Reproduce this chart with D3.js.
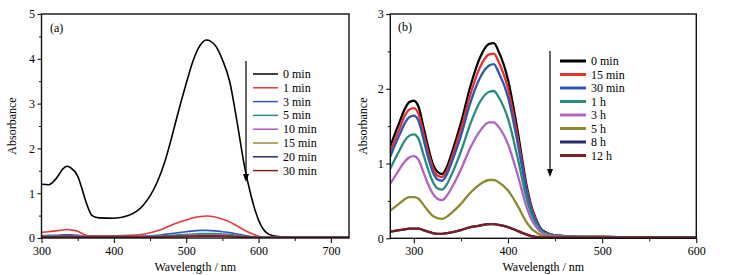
<!DOCTYPE html>
<html><head><meta charset="utf-8">
<script src="https://cdn.jsdelivr.net/npm/d3@7"></script>
<style>
body{margin:0;background:#fff;}
svg{display:block;font-family:"Liberation Serif","Times New Roman",serif;}
</style></head><body>
<svg id="c" width="744" height="275"></svg>
<script>
// ---------- Panel (a) data ----------
const wlA = [300,310,320,330,335,340,350,355,360,365,370,380,400,420,440,460,470,480,490,500,510,520,528,540,550,560,570,580,590,600,610,620,640,680,725];
const labelsA = ["0 min","1 min","3 min","5 min","10 min","15 min","20 min","30 min"];
const colorsA = ["#000000","#e8393a","#3558b8","#2a9080","#b456c0","#9a8a3c","#2e2e6e","#7e2426"];
const a0  = [1.20,1.19,1.32,1.55,1.60,1.57,1.38,1.15,0.88,0.65,0.50,0.45,0.44,0.50,0.72,1.25,1.68,2.25,2.87,3.45,3.98,4.32,4.42,4.30,3.98,3.50,2.62,1.65,0.92,0.40,0.13,0.05,0.02,0.02,0.02];
const a1  = [0.13,0.14,0.16,0.18,0.19,0.18,0.15,0.11,0.07,0.05,0.05,0.05,0.05,0.06,0.08,0.16,0.22,0.29,0.35,0.40,0.45,0.48,0.49,0.47,0.42,0.36,0.27,0.18,0.10,0.04,0.02,0.01,0.01,0.01,0.01];
const a3  = [0.05,0.06,0.06,0.07,0.07,0.07,0.06,0.05,0.04,0.03,0.03,0.03,0.03,0.03,0.04,0.06,0.08,0.10,0.12,0.14,0.16,0.17,0.17,0.16,0.14,0.12,0.09,0.06,0.03,0.02,0.01,0.01,0.01,0.01,0.01];
const a5  = [0.04,0.04,0.05,0.05,0.05,0.05,0.04,0.04,0.03,0.03,0.03,0.03,0.03,0.03,0.03,0.04,0.05,0.06,0.07,0.08,0.09,0.10,0.10,0.10,0.09,0.08,0.06,0.04,0.02,0.02,0.01,0.01,0.01,0.01,0.01];
const a10 = [0.03,0.03,0.04,0.04,0.04,0.04,0.04,0.03,0.03,0.02,0.02,0.02,0.02,0.02,0.03,0.03,0.04,0.05,0.05,0.06,0.07,0.07,0.07,0.07,0.07,0.06,0.05,0.03,0.02,0.01,0.01,0.01,0.01,0.01,0.01];
const a15 = [0.03,0.03,0.03,0.03,0.04,0.03,0.03,0.03,0.02,0.02,0.02,0.02,0.02,0.02,0.02,0.03,0.03,0.04,0.04,0.05,0.05,0.06,0.06,0.06,0.05,0.05,0.04,0.03,0.02,0.01,0.01,0.01,0.01,0.01,0.01];
const a20 = [0.02,0.02,0.03,0.03,0.03,0.03,0.03,0.02,0.02,0.02,0.02,0.02,0.02,0.02,0.02,0.02,0.03,0.03,0.04,0.04,0.04,0.05,0.05,0.05,0.04,0.04,0.03,0.02,0.02,0.01,0.01,0.01,0.01,0.01,0.01];
const a30 = [0.02,0.02,0.02,0.03,0.03,0.03,0.02,0.02,0.02,0.02,0.02,0.02,0.02,0.02,0.02,0.02,0.03,0.03,0.03,0.03,0.04,0.04,0.04,0.04,0.04,0.03,0.03,0.02,0.01,0.01,0.01,0.01,0.01,0.01,0.01];
const xTicksA = [300,400,500,600,700];
const yTicksA = [0,1,2,3,4,5];

// ---------- Panel (b) data ----------
const wlB = [275,280,285,290,295,300,305,310,315,320,325,330,335,340,350,360,370,380,385,390,400,410,420,425,430,435,440,450,460,480,500,550,600];
const labelsB = ["0 min","15 min","30 min","1 h","3 h","5 h","8 h","12 h"];
const colorsB = ["#000000","#e8302e","#2f56b0","#2a8a82","#b262c2","#8c8a30","#2b2b6b","#7a2023"];
const b0   = [1.23,1.40,1.56,1.72,1.82,1.84,1.76,1.50,1.23,1.00,0.89,0.86,0.95,1.13,1.54,2.03,2.41,2.60,2.61,2.50,2.12,1.45,0.69,0.42,0.25,0.13,0.08,0.04,0.03,0.02,0.02,0.01,0.01];
const b15  = [1.16,1.32,1.47,1.63,1.72,1.74,1.66,1.42,1.16,0.95,0.84,0.82,0.90,1.07,1.46,1.92,2.28,2.46,2.47,2.36,2.00,1.37,0.65,0.40,0.24,0.12,0.07,0.04,0.03,0.02,0.02,0.01,0.01];
const b30  = [1.09,1.25,1.39,1.53,1.62,1.64,1.57,1.34,1.09,0.89,0.79,0.77,0.85,1.01,1.37,1.81,2.14,2.31,2.33,2.22,1.89,1.29,0.62,0.37,0.22,0.12,0.07,0.04,0.03,0.02,0.02,0.01,0.01];
const b1h  = [0.93,1.06,1.18,1.30,1.37,1.39,1.33,1.13,0.93,0.76,0.67,0.65,0.72,0.85,1.16,1.53,1.82,1.96,1.97,1.89,1.60,1.09,0.52,0.32,0.19,0.10,0.06,0.03,0.02,0.02,0.02,0.01,0.01];
const b3h  = [0.73,0.83,0.93,1.02,1.08,1.10,1.05,0.89,0.73,0.60,0.53,0.51,0.57,0.67,0.92,1.21,1.43,1.55,1.55,1.49,1.26,0.86,0.41,0.25,0.15,0.08,0.05,0.03,0.02,0.02,0.02,0.01,0.01];
const b5h  = [0.37,0.42,0.47,0.52,0.55,0.55,0.53,0.45,0.37,0.30,0.27,0.26,0.29,0.34,0.46,0.61,0.72,0.78,0.78,0.75,0.64,0.44,0.21,0.13,0.08,0.04,0.03,0.02,0.02,0.02,0.01,0.01,0.01];
const b8h  = [0.09,0.10,0.11,0.12,0.13,0.13,0.13,0.11,0.09,0.07,0.06,0.06,0.07,0.08,0.11,0.15,0.17,0.19,0.19,0.18,0.15,0.10,0.05,0.03,0.02,0.01,0.01,0.01,0.01,0.01,0.01,0.01,0.01];
const b12h = [0.09,0.10,0.11,0.12,0.13,0.13,0.13,0.11,0.09,0.07,0.06,0.06,0.07,0.08,0.11,0.15,0.17,0.19,0.19,0.18,0.15,0.10,0.05,0.03,0.02,0.01,0.01,0.01,0.01,0.01,0.01,0.01,0.01];
const xTicksB = [300,400,500,600];
const yTicksB = [0,1,2,3];

const svg = d3.select("#c");

function panel(o){
  const g = svg.append("g");
  const x = d3.scaleLinear().domain(o.xd).range([o.l,o.r]);
  const y = d3.scaleLinear().domain(o.yd).range([o.b,o.t]);
  g.append("g").attr("transform",`translate(0,${o.b})`)
    .call(d3.axisBottom(x).tickValues(o.xMinor).tickSize(3).tickFormat(""))
    .call(s=>s.select(".domain").remove());
  g.append("g").attr("transform",`translate(${o.l},0)`)
    .call(d3.axisLeft(y).tickValues(o.yMinor).tickSize(2.5).tickFormat(""))
    .call(s=>s.select(".domain").remove());
  const ax = g.append("g").attr("transform",`translate(0,${o.b})`)
    .call(d3.axisBottom(x).tickValues(o.xTicks).tickSize(5).tickPadding(3).tickFormat(d3.format("d")));
  const ay = g.append("g").attr("transform",`translate(${o.l},0)`)
    .call(d3.axisLeft(y).tickValues(o.yTicks).tickSize(4).tickPadding(2.5).tickFormat(d3.format("d")));
  [ax,ay].forEach(a=>{a.select(".domain").remove();a.selectAll("text").attr("font-size",12).attr("font-family","Liberation Serif").attr("fill","#000");a.selectAll("line").attr("stroke","#111").attr("stroke-width",1.1);});
  g.selectAll(".tick line").attr("stroke","#111");
  const line = d3.line().x(d=>x(d[0])).y(d=>y(d[1])).curve(d3.curveMonotoneX);
  const clipId = "clip"+o.id;
  svg.append("clipPath").attr("id",clipId).append("rect").attr("x",o.l).attr("y",o.t).attr("width",o.r-o.l).attr("height",o.b-o.t);
  const sg = g.append("g").attr("clip-path",`url(#${clipId})`);
  o.series.forEach((s,i)=>{
    sg.append("path").datum(o.wl.map((w,j)=>[w,s[j]]))
      .attr("d",line).attr("fill","none").attr("stroke",o.colors[i])
      .attr("stroke-width",o.sw).attr("stroke-linejoin","round");
  });
  g.append("rect").attr("x",o.l).attr("y",o.t).attr("width",o.r-o.l).attr("height",o.b-o.t)
    .attr("fill","none").attr("stroke","#111").attr("stroke-width",1.4);
  g.append("text").attr("x",(o.l+o.r)/2).attr("y",o.b+33).attr("text-anchor","middle")
    .attr("font-size",12).attr("fill","#000").text("Wavelength / nm");
  g.append("text").attr("transform",`translate(${o.yTitleX},${(o.t+o.b)/2}) rotate(-90)`)
    .attr("text-anchor","middle").attr("font-size",12).attr("fill","#000").text("Absorbance");
  g.append("text").attr("x",o.tagX).attr("y",o.tagY).attr("font-size",12).attr("fill","#000").text(o.tag);
  const lg = g.append("g");
  o.labels.forEach((lab,i)=>{
    const yy = o.legY + i*o.legDy;
    lg.append("line").attr("x1",o.legX).attr("x2",o.legX+o.legLen).attr("y1",yy).attr("y2",yy)
      .attr("stroke",o.colors[i]).attr("stroke-width",o.legSw);
    lg.append("text").attr("x",o.legX+o.legLen+5).attr("y",yy+4).attr("font-size",12).attr("fill","#000").text(lab);
  });
  lg.append("line").attr("x1",o.arX).attr("x2",o.arX).attr("y1",o.arY1).attr("y2",o.arY2-6)
    .attr("stroke","#000").attr("stroke-width",1.2);
  lg.append("path").attr("d",`M${o.arX-3},${o.arY2-8} L${o.arX+3},${o.arY2-8} L${o.arX},${o.arY2} Z`).attr("fill","#000");
}

panel({id:"a", xd:[300,725], yd:[0,5], l:41.5, r:349, t:14, b:238,
  xTicks:xTicksA, yTicks:yTicksA, xMinor:[350,450,550,650], yMinor:[0.5,1.5,2.5,3.5,4.5],
  wl:wlA, series:[a0,a1,a3,a5,a10,a15,a20,a30], colors:colorsA, labels:labelsA, sw:1.6,
  yTitleX:16, tag:"(a)", tagX:50, tagY:32,
  legX:253, legLen:25, legY:74, legDy:13.8, legSw:1.5, arX:246, arY1:61, arY2:182});

panel({id:"b", xd:[275,600], yd:[0,3], l:390.3, r:696.3, t:14, b:238.3,
  xTicks:xTicksB, yTicks:yTicksB, xMinor:[350,450,550], yMinor:[0.5,1.5,2.5],
  wl:wlB, series:[b0,b15,b30,b1h,b3h,b5h,b8h,b12h], colors:colorsB, labels:labelsB, sw:2.3,
  yTitleX:367, tag:"(b)", tagX:398, tagY:31,
  legX:560, legLen:26, legY:61, legDy:13.5, legSw:3, arX:550, arY1:51, arY2:177});
</script>
</body></html>
